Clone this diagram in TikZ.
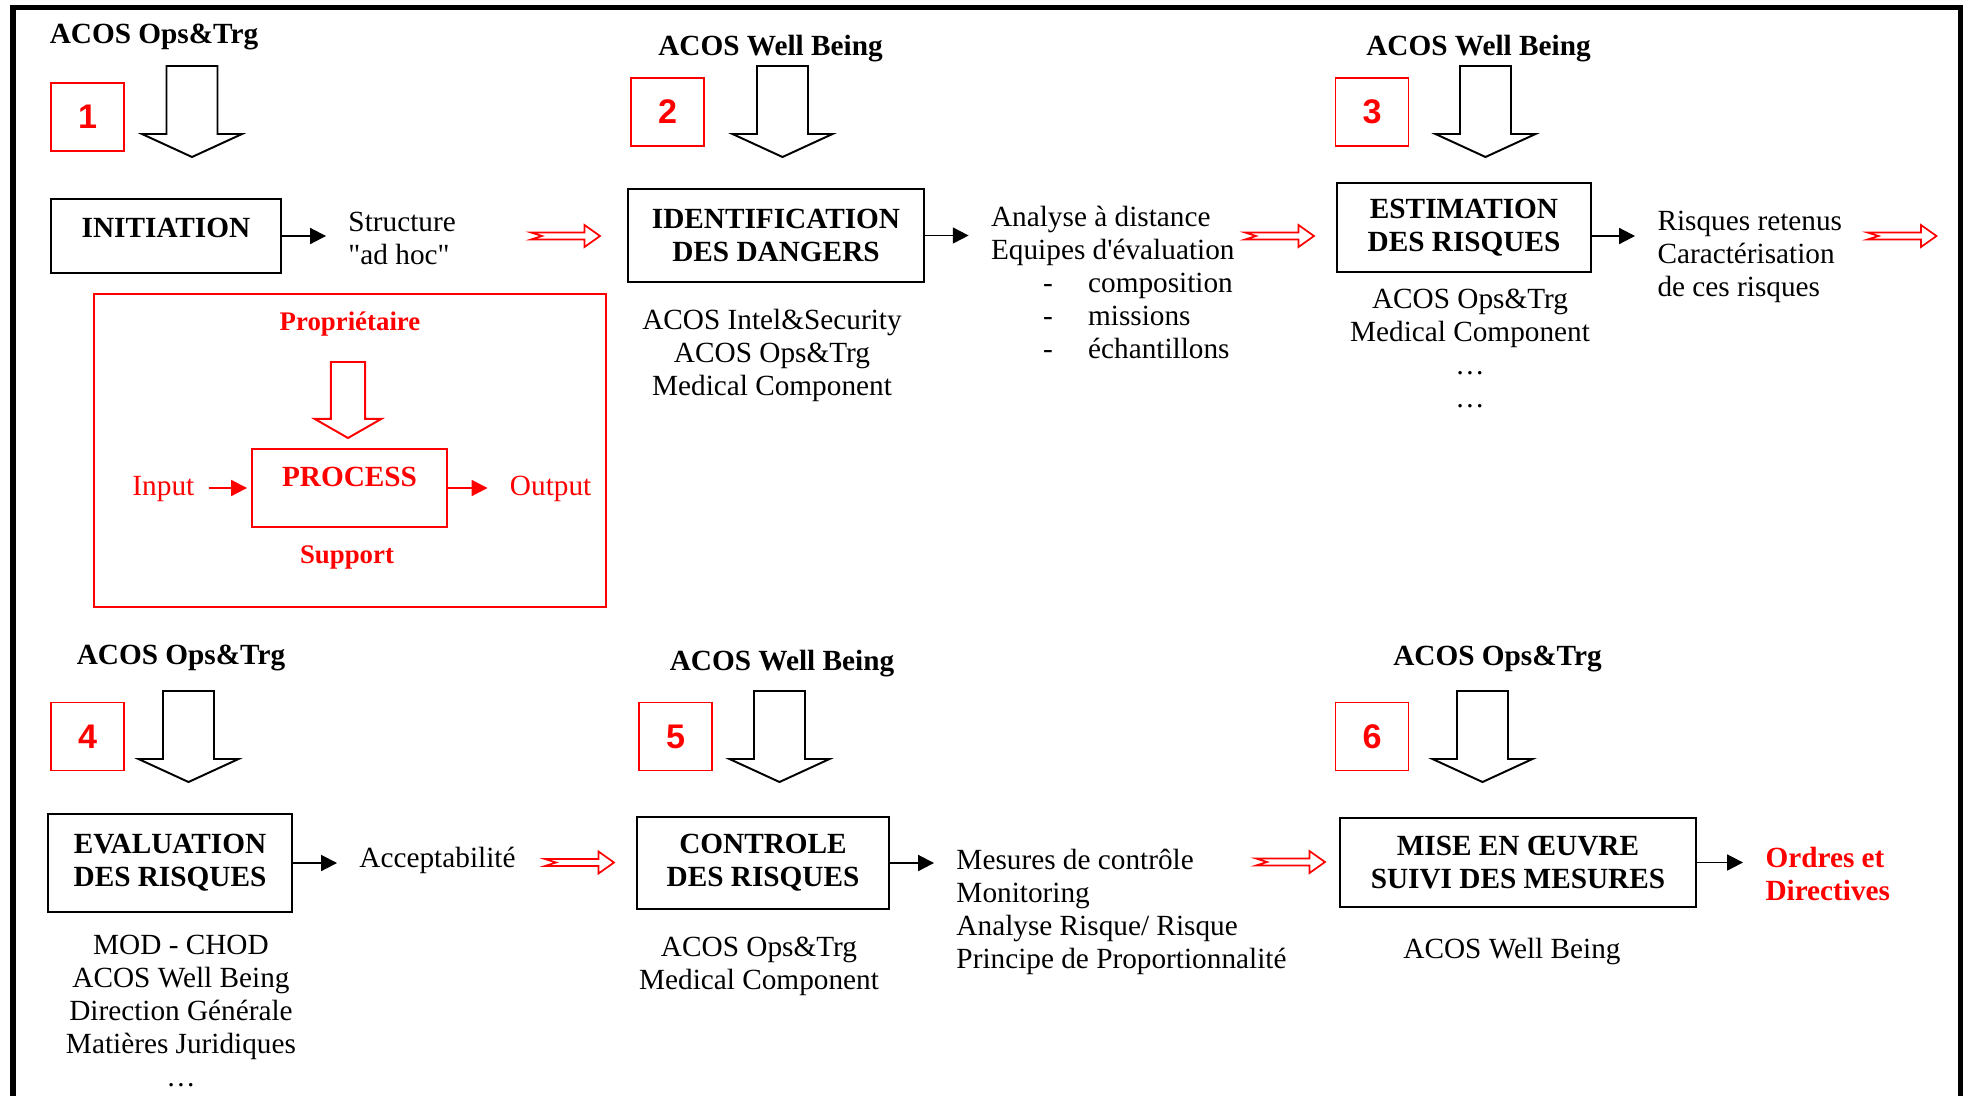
\documentclass[tikz,border=0pt]{standalone}
\usepackage{fontspec}
\setmainfont{Liberation Serif}
\newfontfamily\numfont{Liberation Sans}
\usetikzlibrary{arrows.meta}

\newcommand\txtsize{\fontsize{12}{13.5}\selectfont}
\newcommand\smallsize{\fontsize{11}{13}\selectfont}
\newcommand\dashitem[1]{\makebox[39.8pt][l]{\hspace{21.3pt}-}#1}

\tikzset{
  stepbox/.style={draw, line width=1pt, font=\txtsize\bfseries, align=center, inner sep=0pt},
  numbox/.style={draw=red, line width=0.6pt, text=red, font=\numfont\bfseries\fontsize{14}{16}\selectfont,
    minimum width=30pt, minimum height=28pt},
  leadname/.style={font=\txtsize\bfseries, anchor=base},
  whotext/.style={align=center, anchor=north, inner sep=0pt},
  outtext/.style={align=left, anchor=north west, inner sep=0pt},
  conn/.style={-{Triangle[length=6.5pt,width=6.5pt]}, line width=0.8pt, shorten >=9pt},
  bigarrow/.pic={\draw[line width=0.8pt] (-25.5,0) -- (25.5,0) -- (25.5,68) -- (50,68) -- (0,91)
    -- (-50,68) -- (-25.5,68) -- cycle;},
  flowarrow/.pic={\draw[red, line width=0.7pt] (-34.5,-3.5) -- (19,-3.5) -- (19,-11) -- (34.5,0)
    -- (19,11) -- (19,3.5) -- (-34.5,3.5) -- (-23.5,0) -- cycle;}
}

\begin{document}
\begin{tikzpicture}[x=0.41pt, y=-0.41pt, every node/.style={font=\txtsize}]
\useasboundingbox (0,0) rectangle (1966,1095);
\draw[line width=2.25pt] (13,1097) -- (13,7.5) -- (1960.5,7.5) -- (1960.5,1097);

\node[leadname] (h1) at (154,43) {ACOS Ops\&Trg};
\node[leadname] (h2) at (770.5,55) {ACOS Well Being};
\node[leadname] (h3) at (1478.5,55) {ACOS Well Being};
\node[leadname] (h4) at (181,664) {ACOS Ops\&Trg};
\node[leadname] (h5) at (782,670) {ACOS Well Being};
\node[leadname] (h6) at (1497.5,665) {ACOS Ops\&Trg};

\node[numbox] (n1) at (87.5,117) {1};
\node[numbox] (n2) at (667.5,112) {2};
\node[numbox] (n3) at (1372,112) {3};
\node[numbox] (n4) at (87.5,736.5) {4};
\node[numbox] (n5) at (675.5,736.5) {5};
\node[numbox] (n6) at (1372,736.5) {6};

\pic at (192,66) {bigarrow};
\pic at (782.5,66) {bigarrow};
\pic at (1485.5,66) {bigarrow};
\pic at (188.5,691) {bigarrow};
\pic at (779.5,691) {bigarrow};
\pic at (1482.5,691) {bigarrow};

\node[stepbox, minimum width=94.3pt, minimum height=30.3pt, text depth=7pt] (init) at (166,236) {INITIATION};
\node[stepbox, minimum width=121.4pt, minimum height=38.1pt] (ident) at (776,235.5) {IDENTIFICATION\\DES DANGERS};
\node[stepbox, minimum width=104.1pt, minimum height=36.5pt] (estim) at (1464,227.5) {ESTIMATION\\DES RISQUES};
\node[stepbox, minimum width=100pt, minimum height=40.2pt] (eval) at (170,863) {EVALUATION\\DES RISQUES};
\node[stepbox, minimum width=103.3pt, minimum height=37.7pt] (ctrl) at (763,863) {CONTROLE\\DES RISQUES};
\node[stepbox, minimum width=146pt, minimum height=36.5pt] (mise) at (1518,862.5) {MISE EN ŒUVRE\\SUIVI DES MESURES};

\node[outtext] (adhoc) at (348,212) {Structure\\\textquotedbl ad hoc\textquotedbl};
\node[outtext] (remote) at (990.6,206) {Analyse à distance\\Equipes d\textquotesingle évaluation\\
  \dashitem{composition}\\\dashitem{missions}\\\dashitem{échantillons}};
\node[outtext] (retained) at (1657,211) {Risques retenus\\Caractérisation\\de ces risques};
\node[outtext] (accept) at (359,847) {Acceptabilité};
\node[outtext] (measures) at (956,849) {Mesures de contrôle\\Monitoring\\Analyse Risque/ Risque\\Principe de Proportionnalité};
\node[outtext, text=red, font=\txtsize\bfseries] (orders) at (1765,847) {Ordres et\\Directives};

\node[whotext] (identwho) at (772,309) {ACOS Intel\&Security\\ACOS Ops\&Trg\\Medical Component};
\node[whotext] (estimwho) at (1470,289) {ACOS Ops\&Trg\\Medical Component\\…\\…};
\node[whotext] (evalwho) at (181,935) {MOD - CHOD\\ACOS Well Being\\Direction Générale\\Matières Juridiques\\…};
\node[whotext] (ctrlwho) at (759,937) {ACOS Ops\&Trg\\Medical Component};
\node[whotext] (misewho) at (1512,938) {ACOS Well Being};

\draw[conn] (init.east) -- (init.east -| adhoc.west);
\draw[conn] (ident.east) -- (ident.east -| remote.west);
\draw[conn] (estim.east |- init.east) -- (init.east -| retained.west);
\draw[conn] (eval.east) -- (eval.east -| accept.west);
\draw[conn] (ctrl.east) -- (ctrl.east -| measures.west);
\draw[conn] (mise.east) -- (mise.east -| orders.west);

\pic at (565.5,236) {flowarrow};
\pic at (1279.5,236) {flowarrow};
\pic at (1902,236) {flowarrow};
\pic at (579.5,862.5) {flowarrow};
\pic at (1290.5,862) {flowarrow};

\node[draw=red, line width=0.8pt, minimum width=210pt, minimum height=128.3pt] (legend) at (350,450.5) {};
\node[anchor=base, text=red, font=\smallsize\bfseries] (owner) at (350,330) {Propriétaire};
\pic[red, xscale=0.67, yscale=0.835] at (348,362) {bigarrow};
\node[draw=red, line width=0.8pt, text=red, font=\txtsize\bfseries, minimum width=80pt, minimum height=32pt,
  text depth=8.8pt] (proc) at (349.5,488) {PROCESS};
\node[anchor=base west, inner sep=0pt, text=red] (input) at (132,495) {Input};
\node[anchor=base west, inner sep=0pt, text=red] (output) at (509.5,495) {Output};
\node[anchor=base, text=red, font=\smallsize\bfseries] (support) at (347,563) {Support};
\draw[conn, red, shorten >=1.6pt, shorten <=5.7pt] (proc.west -| input.east) -- (proc.west);
\draw[conn, red] (proc.east) -- (proc.east -| output.west);
\end{tikzpicture}
\end{document}
